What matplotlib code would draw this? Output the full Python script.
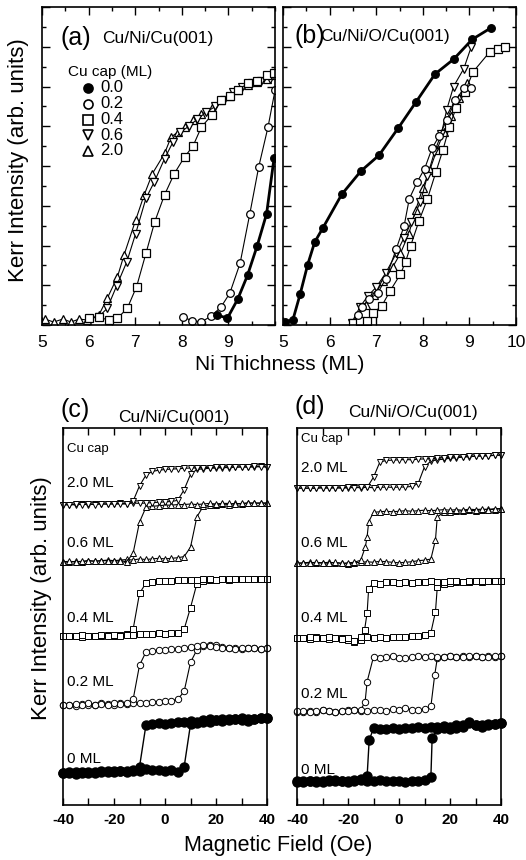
import numpy as np
import matplotlib
matplotlib.use("Agg")
import matplotlib.pyplot as plt
from matplotlib.ticker import MultipleLocator

plt.rcParams['font.family'] = ['Liberation Sans', 'DejaVu Sans']

# ---------------- data: panel (a) Cu/Ni/Cu(001) ----------------
a_x_00 = [8.75, 8.98, 9.20, 9.41, 9.62, 9.82, 9.98]
a_y_00 = [0.50, 0.35, 1.30, 2.50, 4.00, 5.60, 8.40]
a_x_02 = [8.02, 8.22, 8.42, 8.63, 8.84, 9.03, 9.25, 9.46, 9.65, 9.85, 10.0]
a_y_02 = [0.40, 0.22, 0.15, 0.45, 0.90, 1.60, 3.10, 5.60, 7.95, 9.96, 11.8]
a_x_04 = [6.00, 6.22, 6.43, 6.62, 6.83, 7.03, 7.23, 7.42, 7.63, 7.84, 8.06, 8.24,
          8.42, 8.64, 8.85, 9.03, 9.21, 9.43, 9.62, 9.83, 9.97]
a_y_04 = [0.34, 0.39, 0.25, 0.34, 0.84, 1.93, 3.60, 5.20, 6.55, 7.62, 8.46, 9.00,
          9.96, 10.55, 11.30, 11.50, 11.80, 12.20, 12.30, 12.56, 12.70]
a_x_06 = [6.22, 6.40, 6.60, 6.82, 7.01, 7.23, 7.41, 7.63, 7.81, 7.97, 8.15, 8.33,
          8.52, 8.72, 8.90, 9.10, 9.30, 9.50, 9.70, 9.90]
a_y_06 = [0.42, 0.84, 1.96, 3.18, 4.60, 6.37, 7.20, 8.37, 9.20, 9.70, 10.00, 10.35,
          10.70, 11.00, 11.30, 11.70, 12.00, 12.20, 12.30, 12.40]
a_x_20 = [5.06, 5.25, 5.45, 5.62, 5.80, 5.97, 6.22, 6.40, 6.62, 6.76, 7.01, 7.19,
          7.37, 7.63, 7.77, 7.92, 8.06, 8.24, 8.42, 8.64, 8.85, 9.03, 9.21, 9.43,
          9.61, 9.83, 9.97]
a_y_20 = [0.30, 0.15, 0.30, 0.15, 0.30, 0.25, 0.50, 1.34, 2.43, 3.52, 5.28, 6.53,
          7.62, 8.63, 9.46, 9.71, 9.96, 10.30, 10.60, 10.90, 11.30, 11.50, 11.80,
          12.06, 12.23, 12.40, 12.56]

# ---------------- data: panel (b) Cu/Ni/O/Cu(001) ----------------
b_x_00 = [5.05, 5.21, 5.37, 5.53, 5.68, 5.86, 6.26, 6.67, 7.06, 7.47, 7.86, 8.26,
          8.66, 9.06, 9.47]
b_y_00 = [0.17, 0.24, 1.57, 3.04, 4.17, 4.90, 6.57, 7.74, 8.54, 9.90, 11.24, 12.62,
          13.37, 14.37, 14.96]
b_x_02 = [6.60, 6.70, 6.85, 7.03, 7.20, 7.43, 7.60, 7.71, 7.88, 8.04, 8.20, 8.35,
          8.51, 8.70, 8.88, 9.03]
b_y_02 = [0.50, 0.90, 1.30, 1.60, 2.30, 3.82, 5.00, 6.35, 7.20, 7.87, 8.90, 9.50,
          10.30, 11.30, 11.90, 11.90]
b_x_04 = [6.51, 6.65, 6.80, 6.94, 7.12, 7.30, 7.52, 7.63, 7.74, 7.92, 8.10, 8.28,
          8.43, 8.57, 8.71, 8.90, 9.08, 9.44, 9.62, 9.77]
b_y_04 = [0.10, 0.20, 0.20, 0.62, 0.96, 1.72, 2.56, 3.18, 3.99, 5.25, 6.35, 7.69,
          8.79, 9.97, 10.90, 11.70, 12.74, 13.75, 13.90, 14.00]
b_x_06 = [6.47, 6.65, 6.82, 7.00, 7.20, 7.43, 7.60, 7.75, 7.95, 8.10, 8.25, 8.40,
          8.51, 8.66, 8.88, 9.04]
b_y_06 = [0.10, 0.90, 1.46, 1.90, 2.60, 3.60, 4.40, 5.16, 6.20, 7.50, 8.70, 9.63,
          10.80, 12.00, 12.90, 14.00]
b_x_20 = [6.60, 6.78, 6.95, 7.15, 7.35, 7.52, 7.70, 7.85, 8.00, 8.15, 8.30, 8.45,
          8.60, 8.78, 8.95]
b_y_20 = [0.50, 1.00, 1.50, 2.20, 2.90, 3.60, 4.60, 5.80, 6.90, 7.80, 8.80, 9.70,
          10.50, 11.40, 12.20]

cap_labels = ["0.0", "0.2", "0.4", "0.6", "2.0"]
loop_labels = ["0 ML", "0.2 ML", "0.4 ML", "0.6 ML", "2.0 ML"]

# ---------------- data: hysteresis loops (c), (d) ----------------
H_field = [-40, -37.5, -35, -32.5, -30, -27.5, -25, -22.5, -20, -17.5, -15, -12.5,
           -10, -7.5, -5, -2.5, 0, 2.5, 5, 7.5, 10, 12.5, 15, 17.5, 20, 22.5, 25,
           27.5, 30, 32.5, 35, 37.5, 40]

# normalized Kerr signal: increasing-field branch (inc) and decreasing branch (dec)
c0_inc = [0.00, 0.02, -0.02, 0.01, 0.03, 0.00, 0.02, 0.04, 0.03, 0.05, 0.04, 0.06, 0.05, 0.08, 0.07, 0.06, 0.05, 0.06, 0.03, 0.12, 0.92, 0.95, 0.97, 0.96, 1.00, 0.98, 1.02, 1.03, 1.01, 0.99, 1.02, 1.04, 1.05]
c0_dec = [0.01, 0.00, 0.03, 0.02, 0.00, 0.03, 0.04, 0.02, 0.05, 0.04, 0.03, 0.05, 0.12, 0.90, 0.92, 0.94, 0.93, 0.95, 0.96, 0.97, 0.98, 0.97, 1.00, 1.02, 1.00, 1.03, 1.01, 1.02, 1.04, 1.02, 1.03, 1.05, 1.05]
c02_inc = [0.00, 0.01, -0.01, 0.02, 0.00, 0.01, 0.03, 0.02, 0.01, 0.03, 0.02, 0.04, 0.03, 0.04, 0.05, 0.06, 0.07, 0.08, 0.10, 0.24, 0.75, 0.97, 1.03, 1.06, 1.05, 1.02, 1.00, 1.01, 0.99, 1.00, 1.01, 0.99, 1.00]
c02_dec = [0.01, 0.00, 0.02, 0.00, 0.03, 0.01, 0.02, 0.00, 0.03, 0.02, 0.04, 0.10, 0.70, 0.93, 0.95, 0.96, 0.97, 0.98, 0.98, 1.00, 1.02, 1.04, 1.05, 1.03, 1.02, 1.01, 1.00, 0.99, 1.00, 1.01, 1.00, 0.99, 1.00]
c04_inc = [0.00, 0.01, 0.00, -0.02, 0.01, 0.00, 0.01, 0.02, 0.01, 0.02, 0.03, 0.02, 0.03, 0.04, 0.03, 0.05, 0.04, 0.05, 0.06, 0.12, 0.50, 0.92, 0.97, 0.98, 0.99, 1.00, 0.99, 1.00, 1.01, 1.00, 1.00, 1.01, 1.00]
c04_dec = [0.00, 0.01, 0.00, 0.02, 0.01, 0.00, 0.02, 0.01, 0.02, 0.01, 0.02, 0.12, 0.75, 0.93, 0.95, 0.96, 0.96, 0.97, 0.98, 0.98, 0.99, 0.99, 1.00, 1.00, 0.99, 1.00, 1.01, 1.00, 1.00, 1.01, 1.00, 1.01, 1.00]
c06_inc = [0.00, -0.01, 0.01, 0.00, 0.02, 0.01, 0.02, 0.03, 0.02, 0.03, 0.04, 0.03, 0.05, 0.04, 0.05, 0.06, 0.05, 0.06, 0.07, 0.09, 0.25, 0.77, 0.95, 0.97, 0.98, 0.99, 0.98, 1.00, 0.99, 1.00, 1.01, 1.00, 1.01]
c06_dec = [0.00, 0.01, 0.00, 0.01, 0.02, 0.01, 0.02, 0.02, 0.01, 0.02, 0.00, 0.15, 0.68, 0.93, 0.95, 0.96, 0.97, 0.97, 0.98, 0.98, 0.99, 0.98, 0.99, 1.00, 0.99, 1.00, 1.00, 0.99, 1.00, 1.01, 1.00, 1.01, 1.00]
c20_inc = [0.00, 0.01, 0.00, 0.02, 0.01, 0.02, 0.03, 0.02, 0.03, 0.04, 0.03, 0.05, 0.04, 0.05, 0.06, 0.07, 0.08, 0.09, 0.12, 0.40, 0.80, 0.93, 0.95, 0.96, 0.97, 0.98, 0.98, 0.99, 1.00, 0.99, 1.00, 1.01, 1.00]
c20_dec = [0.01, 0.00, 0.02, 0.01, 0.02, 0.01, 0.03, 0.02, 0.03, 0.02, 0.03, 0.10, 0.50, 0.78, 0.88, 0.91, 0.93, 0.94, 0.95, 0.96, 0.97, 0.97, 0.98, 0.98, 0.99, 0.99, 1.00, 0.99, 1.00, 1.00, 1.01, 1.00, 1.00]

d0_inc = [0.00, 0.02, 0.01, -0.01, 0.02, 0.03, 0.01, 0.02, 0.00, 0.03, 0.04, 0.02, 0.01, 0.03, 0.02, 0.01, 0.02, 0.00, 0.01, 0.02, 0.03, 0.08, 0.95, 0.97, 0.95, 0.98, 1.00, 1.08, 1.02, 1.00, 1.03, 1.05, 1.07]
d0_dec = [0.01, 0.00, 0.02, 0.01, 0.00, 0.02, 0.03, 0.01, 0.02, 0.01, 0.03, 0.10, 0.97, 0.96, 0.95, 0.97, 0.96, 0.98, 0.97, 0.99, 0.98, 1.00, 0.99, 1.01, 1.00, 1.02, 1.03, 1.06, 1.03, 1.02, 1.04, 1.05, 1.07]
d02_inc = [0.00, -0.01, 0.02, 0.00, 0.03, 0.01, -0.01, 0.02, 0.04, 0.03, 0.01, 0.02, 0.04, 0.03, 0.02, 0.05, 0.03, 0.07, 0.04, 0.03, 0.05, 0.10, 0.97, 1.00, 1.02, 0.99, 1.01, 1.00, 1.02, 0.99, 1.01, 1.00, 1.02]
d02_dec = [0.01, 0.02, 0.00, 0.01, 0.03, 0.02, 0.00, 0.02, 0.01, 0.03, 0.04, 0.55, 1.00, 0.97, 0.99, 1.02, 0.98, 0.97, 0.99, 1.01, 1.00, 1.02, 0.99, 1.00, 1.01, 0.99, 1.00, 1.02, 1.01, 1.00, 0.99, 1.01, 1.02]
d04_inc = [0.00, 0.01, -0.01, 0.02, 0.00, -0.01, 0.01, 0.00, -0.03, -0.06, -0.03, 0.02, 0.01, 0.02, 0.01, 0.02, 0.03, 0.02, 0.04, 0.05, 0.06, 0.10, 0.90, 0.97, 0.98, 0.99, 1.00, 0.99, 1.01, 1.00, 1.01, 1.02, 1.01]
d04_dec = [0.01, 0.00, 0.02, 0.01, 0.00, 0.02, 0.01, -0.02, 0.00, -0.05, 0.03, 0.45, 0.98, 0.97, 0.99, 1.00, 0.98, 0.99, 0.98, 0.99, 1.00, 1.01, 0.99, 1.00, 1.01, 1.02, 1.00, 1.01, 1.02, 1.01, 1.02, 1.01, 1.02]
d06_inc = [0.00, 0.01, 0.02, 0.00, 0.01, 0.02, 0.01, 0.00, -0.01, 0.01, 0.02, 0.03, 0.02, 0.04, 0.03, 0.02, 0.01, 0.02, 0.03, 0.05, 0.06, 0.08, 0.87, 0.96, 0.97, 0.98, 0.99, 1.00, 0.99, 1.01, 1.02, 1.01, 1.03]
d06_dec = [0.01, 0.00, 0.01, 0.02, 0.01, 0.00, 0.02, 0.00, 0.01, 0.02, 0.06, 0.50, 0.96, 0.97, 0.98, 0.97, 0.98, 0.99, 0.98, 0.99, 1.00, 0.99, 1.00, 1.01, 1.00, 1.01, 1.00, 1.02, 1.01, 1.02, 1.01, 1.03, 1.03]
d20_inc = [0.00, 0.01, 0.00, 0.01, 0.02, 0.01, 0.02, 0.01, 0.02, 0.03, 0.02, 0.03, 0.02, 0.03, 0.04, 0.03, 0.04, 0.04, 0.06, 0.15, 0.68, 0.86, 0.90, 0.92, 0.95, 0.97, 0.98, 1.00, 1.01, 1.02, 1.03, 1.04, 1.05]
d20_dec = [0.01, 0.00, 0.01, 0.00, 0.02, 0.01, 0.02, 0.01, 0.03, 0.02, 0.03, 0.03, 0.35, 0.83, 0.88, 0.89, 0.90, 0.91, 0.90, 0.92, 0.93, 0.94, 0.95, 0.97, 0.98, 0.99, 1.00, 1.01, 1.02, 1.03, 1.03, 1.04, 1.05]

# extra measured points inside the fast switching steps (field, normalized signal)
d0_inc_sw = ([13.0], [0.80]);  d0_dec_sw = ([-11.7], [0.75])
d02_inc_sw = ([14.0], [0.67]); d02_dec_sw = ([-13.3], [0.18])
d04_inc_sw = ([14.3], [0.47]); d04_dec_sw = ([-11.9, -13.5], [0.88, 0.15])
d06_inc_sw = ([14.3], [0.44]); d06_dec_sw = ([-11.9, -13.2], [0.78, 0.31])
no_sw = ([], [])

# low / high Kerr levels of each loop (arb. units, as stacked in the figure)
c_low = [0.84, 2.65, 4.48, 6.45, 7.96]
c_high = [2.25, 4.16, 5.99, 8.00, 8.97]
d_low = [0.62, 2.47, 4.42, 6.41, 8.40]
d_high = [2.08, 3.93, 5.92, 7.82, 9.24]

c_inc = [c0_inc, c02_inc, c04_inc, c06_inc, c20_inc]
c_dec = [c0_dec, c02_dec, c04_dec, c06_dec, c20_dec]
d_inc = [d0_inc, d02_inc, d04_inc, d06_inc, d20_inc]
d_dec = [d0_dec, d02_dec, d04_dec, d06_dec, d20_dec]
c_inc_sw = [no_sw] * 5
c_dec_sw = [no_sw] * 5
d_inc_sw = [d0_inc_sw, d02_inc_sw, d04_inc_sw, d06_inc_sw, no_sw]
d_dec_sw = [d0_dec_sw, d02_dec_sw, d04_dec_sw, d06_dec_sw, no_sw]

# ---------------- figure ----------------
W, H = 526, 860
fig = plt.figure(figsize=(W / 100, H / 100), dpi=100)


def ax_at(l, r, t, b):
    return fig.add_axes([l / W, 1 - b / H, (r - l) / W, (b - t) / H])


def style(ax, lw=1.2):
    for s in ax.spines.values():
        s.set_linewidth(lw)
    ax.tick_params(which='both', direction='in', top=True, right=True, width=1.0)
    ax.tick_params(which='major', length=6)
    ax.tick_params(which='minor', length=3)


top_markers = [('o', 'k'), ('o', 'w'), ('s', 'w'), ('v', 'w'), ('^', 'w')]

ax_a = ax_at(42, 275, 7, 325)
ax_b = ax_at(283, 516, 7, 325)
for ax, xs, ys in [
    (ax_a, [a_x_00, a_x_02, a_x_04, a_x_06, a_x_20], [a_y_00, a_y_02, a_y_04, a_y_06, a_y_20]),
    (ax_b, [b_x_00, b_x_02, b_x_04, b_x_06, b_x_20], [b_y_00, b_y_02, b_y_04, b_y_06, b_y_20]),
]:
    for i in [4, 3, 2, 1, 0]:
        m, fc = top_markers[i]
        lw = 2.0 if i == 0 else 0.8
        ax.plot(xs[i], ys[i], marker=m, mfc=fc, mec='k', mew=0.9, ms=5.5,
                color='k', lw=lw, clip_on=True, label=cap_labels[i])
    ax.set_xlim(5, 10)
    ax.set_ylim(0, 16)
    ax.xaxis.set_major_locator(MultipleLocator(1))
    ax.xaxis.set_minor_locator(MultipleLocator(0.5))
    ax.yaxis.set_major_locator(MultipleLocator(2))
    ax.yaxis.set_minor_locator(MultipleLocator(1))
    ax.set_yticklabels([])
    style(ax)
    ax.tick_params(axis='x', labelsize=12.5, pad=7)

ax_a.set_xticks([5, 6, 7, 8, 9])
ax_a.set_xticklabels(['5', '6', '7', '8', '9'])
ax_a.set_xlim(5, 10)

fig.text(60 / W, 1 - 38 / H, '(a)', fontsize=18, va='center', ha='left')
fig.text(102 / W, 1 - 38 / H, 'Cu/Ni/Cu(001)', fontsize=12.5, va='center', ha='left')
fig.text(294 / W, 1 - 36 / H, '(b)', fontsize=18, va='center', ha='left')
fig.text(320 / W, 1 - 36 / H, 'Cu/Ni/O/Cu(001)', fontsize=12.5, va='center', ha='left')

# legend in (a)
fig.text(68 / W, 1 - 72 / H, 'Cu cap (ML)', fontsize=11, va='center', ha='left')
leg_y = [88, 104, 119.5, 135, 150.5]
for i in range(5):
    m, fc = top_markers[i]
    fig.lines.append(matplotlib.lines.Line2D([88 / W], [1 - leg_y[i] / H], marker=m, mfc=fc,
                                             mec='k', mew=1.2, ms=6.5, transform=fig.transFigure))
    fig.text(100 / W, 1 - leg_y[i] / H, cap_labels[i], fontsize=12, va='center', ha='left')

fig.text(280 / W, 1 - 365 / H, 'Ni Thichness (ML)', fontsize=15, ha='center', va='center')
fig.text(19 / W, 1 - 160 / H, 'Kerr Intensity (arb. units)', fontsize=16, rotation=90,
         ha='center', va='center')

# ---------------- bottom panels ----------------
loop_markers = [('o', 'k'), ('o', 'w'), ('s', 'w'), ('^', 'w'), ('v', 'w')]

ax_c = ax_at(63, 267, 428, 805)
ax_d = ax_at(297, 501, 428, 805)
for ax, lows, highs, incs, decs, isw, dsw in [
    (ax_c, c_low, c_high, c_inc, c_dec, c_inc_sw, c_dec_sw),
    (ax_d, d_low, d_high, d_inc, d_dec, d_inc_sw, d_dec_sw),
]:
    for i in range(5):
        m, fc = loop_markers[i]
        amp = highs[i] - lows[i]
        for branch, sw, rev in [(incs[i], isw[i], False), (decs[i], dsw[i], True)]:
            h = np.array(list(H_field) + list(sw[0]), dtype=float)
            v = np.array(list(branch) + list(sw[1]), dtype=float)
            idx = np.argsort(h)
            if rev:
                idx = idx[::-1]
            y = lows[i] + amp * v[idx]
            if i == 0:
                ax.plot(h[idx], y, marker='o', mfc='k', mec='k', ms=6.5, color='k', lw=1.0,
                        clip_on=False)
            else:
                ax.plot(h[idx], y, marker=m, mfc=fc, mec='k', mew=0.7, ms=4.6, color='k',
                        lw=0.8, clip_on=False)
    ax.set_xlim(-40, 40)
    ax.set_ylim(0, 10)
    ax.xaxis.set_minor_locator(MultipleLocator(10))
    ax.set_yticks([])
    style(ax)
    ax.tick_params(axis='y', left=False, right=False)
    ax.tick_params(axis='x', which='both', length=5)
    ax.tick_params(axis='x', labelsize=11, pad=6)
    ax.set_xticks([-40, -20, 0, 20, 40])
    ax.set_xticklabels(['-40', '-20', '0', '20', '40'], fontweight='bold')

# in-panel labels
c_lab_y = [1.21, 3.27, 4.96, 6.96, 8.53]
d_lab_y = [0.94, 2.95, 4.96, 6.96, 8.93]
for ax, ly, cy in [(ax_c, c_lab_y, 9.45), (ax_d, d_lab_y, 9.7)]:
    ax.text(-38.5, cy, 'Cu cap', fontsize=9.5, va='center', ha='left')
    for i in range(5):
        ax.text(-38.5, ly[i], loop_labels[i], fontsize=11, va='center', ha='left')

fig.text(60 / W, 1 - 410 / H, '(c)', fontsize=18, va='center', ha='left')
fig.text(174 / W, 1 - 418 / H, 'Cu/Ni/Cu(001)', fontsize=12.5, va='center', ha='center')
fig.text(294 / W, 1 - 407 / H, '(d)', fontsize=18, va='center', ha='left')
fig.text(413 / W, 1 - 413 / H, 'Cu/Ni/O/Cu(001)', fontsize=12.5, va='center', ha='center')

fig.text(278 / W, 1 - 845 / H, 'Magnetic Field (Oe)', fontsize=15.5, ha='center', va='center')
fig.text(42 / W, 1 - 598 / H, 'Kerr Intensity (arb. units)', fontsize=16, rotation=90,
         ha='center', va='center')

fig.savefig('out.png', dpi=100)
